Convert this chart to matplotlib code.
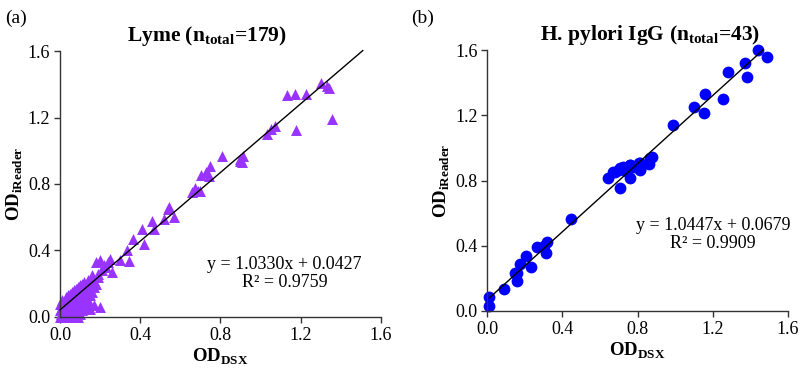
import matplotlib
matplotlib.use("Agg")
import matplotlib.pyplot as plt
import numpy as np

plt.rcParams['font.family'] = ['Liberation Serif', 'DejaVu Serif']
plt.rcParams['mathtext.fontset'] = 'custom'
plt.rcParams['mathtext.rm'] = 'Liberation Serif'
plt.rcParams['mathtext.bf'] = 'Liberation Serif:bold'

# Lyme: OD DSX vs OD iReader (179 samples)
lyme_x = [
    1.30, 1.333, 1.34, 1.133, 1.17, 1.225, 1.358, 1.178, 1.072, 1.03,
    1.05, 0.808, 0.913, 0.897, 0.91, 0.90, 0.747, 0.703, 0.742, 0.73,
    0.675, 0.70, 0.66, 0.69, 0.545, 0.54, 0.567, 0.52, 0.458, 0.408,
    0.47, 0.363, 0.42, 0.333, 0.342, 0.30, 0.25, 0.20, 0.23, 0.26,
    0.19, 0.20, 0.146,
    0.00, 0.00, 0.00,
    0.01, 0.01, 0.01, 0.01,
    0.02, 0.02, 0.02, 0.02, 0.02,
    0.03, 0.03, 0.03, 0.03, 0.03, 0.03,
    0.04, 0.04, 0.04, 0.04, 0.04, 0.04, 0.04,
    0.05, 0.05, 0.05, 0.05, 0.05, 0.05, 0.05,
    0.06, 0.06, 0.06, 0.06, 0.06, 0.06, 0.06, 0.06,
    0.07, 0.07, 0.07, 0.07, 0.07, 0.07, 0.07,
    0.08, 0.08, 0.08, 0.08, 0.08, 0.08, 0.08,
    0.09, 0.09, 0.09, 0.09, 0.09, 0.09,
    0.10, 0.10, 0.10, 0.10, 0.10, 0.10,
    0.11, 0.11, 0.11, 0.11, 0.11,
    0.12, 0.12, 0.12, 0.12, 0.12,
    0.13, 0.13, 0.13, 0.13,
    0.14, 0.14, 0.14, 0.14,
    0.15, 0.15, 0.15,
    0.16, 0.16, 0.16,
    0.17, 0.17,
    0.18, 0.18,
    0.19,
    0.005, 0.005,
    0.015, 0.015, 0.015,
    0.025, 0.025, 0.025,
    0.035, 0.035, 0.035, 0.035,
    0.045, 0.045, 0.045, 0.045,
    0.055, 0.055, 0.055, 0.055,
    0.065, 0.065, 0.065, 0.065,
    0.075, 0.075, 0.075,
    0.085, 0.085, 0.085,
    0.095, 0.095,
    0.105, 0.105,
    0.115, 0.115,
    0.22, 0.24, 0.21, 0.13, 0.09,
]
lyme_y = [
    1.41, 1.387, 1.38, 1.337, 1.341, 1.341, 1.19, 1.127, 1.146, 1.102,
    1.13, 0.966, 0.97, 0.936, 0.93, 0.95, 0.91, 0.855, 0.849, 0.87,
    0.775, 0.755, 0.75, 0.76, 0.664, 0.65, 0.60, 0.59, 0.58, 0.53,
    0.53, 0.47, 0.44, 0.40, 0.335, 0.345, 0.35, 0.34, 0.30, 0.27,
    0.26, 0.058, 0.08,
    0.00, 0.04, 0.08,
    0.01, 0.03, 0.06, 0.10,
    0.00, 0.02, 0.05, 0.07, 0.09,
    0.01, 0.03, 0.06, 0.08, 0.10, 0.12,
    0.00, 0.02, 0.05, 0.07, 0.09, 0.11, 0.13,
    0.01, 0.04, 0.06, 0.08, 0.10, 0.12, 0.14,
    0.00, 0.03, 0.05, 0.07, 0.09, 0.11, 0.13, 0.15,
    0.02, 0.05, 0.08, 0.10, 0.12, 0.14, 0.16,
    0.01, 0.04, 0.07, 0.10, 0.12, 0.15, 0.17,
    0.03, 0.06, 0.09, 0.12, 0.14, 0.18,
    0.02, 0.07, 0.10, 0.13, 0.16, 0.19,
    0.04, 0.09, 0.12, 0.15, 0.20,
    0.06, 0.11, 0.14, 0.17, 0.21,
    0.08, 0.12, 0.16, 0.19,
    0.10, 0.15, 0.18, 0.22,
    0.05, 0.13, 0.20,
    0.15, 0.22, 0.25,
    0.07, 0.18,
    0.20, 0.33,
    0.24,
    0.02, 0.05,
    0.00, 0.04, 0.08,
    0.01, 0.04, 0.09,
    0.02, 0.05, 0.09, 0.11,
    0.01, 0.04, 0.08, 0.12,
    0.02, 0.05, 0.09, 0.13,
    0.01, 0.06, 0.10, 0.14,
    0.03, 0.09, 0.13,
    0.05, 0.11, 0.16,
    0.08, 0.15,
    0.05, 0.17,
    0.10, 0.18,
    0.31, 0.33, 0.28, 0.06, 0.00,
]

# H. pylori IgG (43 samples)
hp_x = [1.443, 1.488, 1.372, 1.381, 1.280, 1.254, 1.156, 1.154, 1.101, 0.986,
        0.876, 0.858, 0.814, 0.805, 0.761, 0.761, 0.707, 0.681, 0.645, 0.704,
        0.70, 0.76, 0.814, 0.867, 0.814, 0.67, 0.723, 0.78, 0.74,
        0.445, 0.317, 0.30, 0.264, 0.314, 0.234, 0.207, 0.176, 0.149, 0.161,
        0.16, 0.087, 0.012, 0.012]
hp_y = [1.60, 1.56, 1.52, 1.434, 1.464, 1.30, 1.33, 1.217, 1.253, 1.139,
        0.947, 0.90, 0.869, 0.906, 0.896, 0.814, 0.875, 0.855, 0.814, 0.755,
        0.865, 0.896, 0.908, 0.939, 0.865, 0.855, 0.885, 0.88, 0.86,
        0.564, 0.421, 0.40, 0.394, 0.354, 0.272, 0.339, 0.288, 0.231, 0.186,
        0.23, 0.135, 0.084, 0.029]

lyme_fit = [1.0330, 0.0427]
hp_fit = [1.0447, 0.0679]
lyme_line_x = [0.0, 1.51]
hp_line_x = [0.012, 1.468]
ticks = [0.0, 0.4, 0.8, 1.2, 1.6]

fig = plt.figure(figsize=(8, 3.68), dpi=100)
ax1 = fig.add_axes([0.075, 0.1386, 0.401, 0.7228])
ax2 = fig.add_axes([0.609, 0.155, 0.376, 0.709])


def style_axes(ax):
    ax.set_xlim(0, 1.6)
    ax.set_ylim(0, 1.6)
    ax.set_xticks(ticks)
    ax.set_yticks(ticks)
    ax.set_xticklabels(["%.1f" % t for t in ticks])
    ax.set_yticklabels(["%.1f" % t for t in ticks])
    ax.spines['top'].set_visible(False)
    ax.spines['right'].set_visible(False)
    for s in ['left', 'bottom']:
        ax.spines[s].set_color('#333333')
        ax.spines[s].set_linewidth(1.0)
    ax.tick_params(direction='out', length=4, width=1, color='#333333',
                   labelsize=13, pad=3)
    ax.set_xlabel(r"OD$_{\mathbf{DSX}}$", fontsize=13.5, fontweight='bold', labelpad=2)
    ax.set_ylabel(r"OD$_{\mathbf{iReader}}$", fontsize=13.5, fontweight='bold', labelpad=2)


ax1.scatter(lyme_x, lyme_y, marker='^', s=62, color='#9933ff', linewidths=0,
            clip_on=False, zorder=2)
lx = np.array(lyme_line_x)
ax1.plot(lx, lyme_fit[0] * lx + lyme_fit[1], color='black', lw=1.0, zorder=3,
         clip_on=False)
style_axes(ax1)
ax1.set_title(r"Lyme (n$_{\mathbf{total}}$=179)", fontsize=15.5, fontweight='bold',
              x=0.458, pad=7)
ax1.text(1.12, 0.26, "y = 1.0330x + 0.0427\nR² = 0.9759", fontsize=13,
         ha='center', va='center', linespacing=1.1)

ax2.scatter(hp_x, hp_y, marker='o', s=72, color='#0000ff', linewidths=0,
            clip_on=False, zorder=2)
hx = np.array(hp_line_x)
ax2.plot(hx, hp_fit[0] * hx + hp_fit[1], color='black', lw=1.0, zorder=3,
         clip_on=False)
style_axes(ax2)
ax2.set_title(r"H. pylori IgG (n$_{\mathbf{total}}$=43)", fontsize=15.5,
              fontweight='bold', x=0.54, pad=7)
ax2.text(1.2, 0.47, "y = 1.0447x + 0.0679\nR² = 0.9909", fontsize=13,
         ha='center', va='center', linespacing=1.1)

fig.text(0.006, 0.975, "(a)", fontsize=14, ha='left', va='top')
fig.text(0.514, 0.975, "(b)", fontsize=14, ha='left', va='top')

fig.savefig("out.png", dpi=100)
